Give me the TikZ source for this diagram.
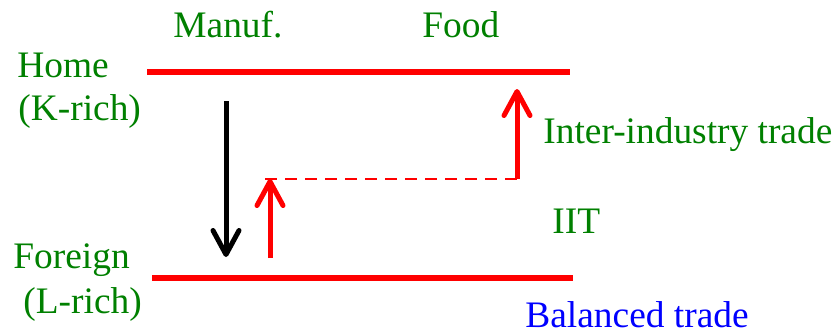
\documentclass[tikz,border=0pt]{standalone}
\usepackage{fontspec}
\setmainfont{Liberation Serif}
\usetikzlibrary{arrows.meta}
\definecolor{tgreen}{RGB}{0,128,0}
\definecolor{tred}{RGB}{255,0,0}
\definecolor{tblue}{RGB}{0,0,255}
\begin{document}
\begin{tikzpicture}[x=0.5pt,y=-0.5pt,
  lbl/.style={anchor=base west,inner sep=0pt,text=tgreen,font=\fontsize{18.7}{22}\selectfont},
  level/.style={draw=tred,line width=2.6pt},
  flow/.style={line width=2.5pt,-{Straight Barb[length=12pt,width=13pt,line cap=round,line join=round]}},
  iit/.style={draw=tred,line width=1.4pt,dash pattern=on 6pt off 4pt}]
\useasboundingbox (0,0) rectangle (834,333);
% labels
\node[lbl] (manuf) at (173,37) {Manuf.};
\node[lbl] (food) at (422,37) {Food};
\node[lbl] (home) at (17,77) {Home};
\node[lbl] (krich) at (18,120) {(K-rich)};
\node[lbl] (inter) at (543,143) {Inter-industry trade};
\node[lbl] (iitl) at (552,233) {IIT};
\node[lbl] (foreign) at (13,268) {Foreign};
\node[lbl] (lrich) at (23,313) {(L-rich)};
\node[lbl,text=tblue,text depth=0pt] (bal) at (525,327) {Balanced trade};
% coordinates
\coordinate (hl) at (147,72);
\coordinate (hr) at (570,72);
\coordinate (fl) at (152,278);
\coordinate (fr) at (573,278);
\coordinate (ms) at (226,101);
\coordinate (me) at (226,257);
\coordinate (as) at (270,258);
\coordinate (ae) at (270,179);
\coordinate (dl) at (265,179);
\coordinate (dr) at (517,179);
\coordinate (rt) at (517,89);
% levels
\draw[level] (hl) -- (hr);
\draw[level] (fl) -- (fr);
% flows
\draw[flow,draw=black] (ms) -- (me);
\draw[iit] (dl) -- (dr);
\draw[flow,draw=tred] (as) -- (ae);
\draw[flow,draw=tred,line join=round] (dr) -- (rt);
\end{tikzpicture}
\end{document}
